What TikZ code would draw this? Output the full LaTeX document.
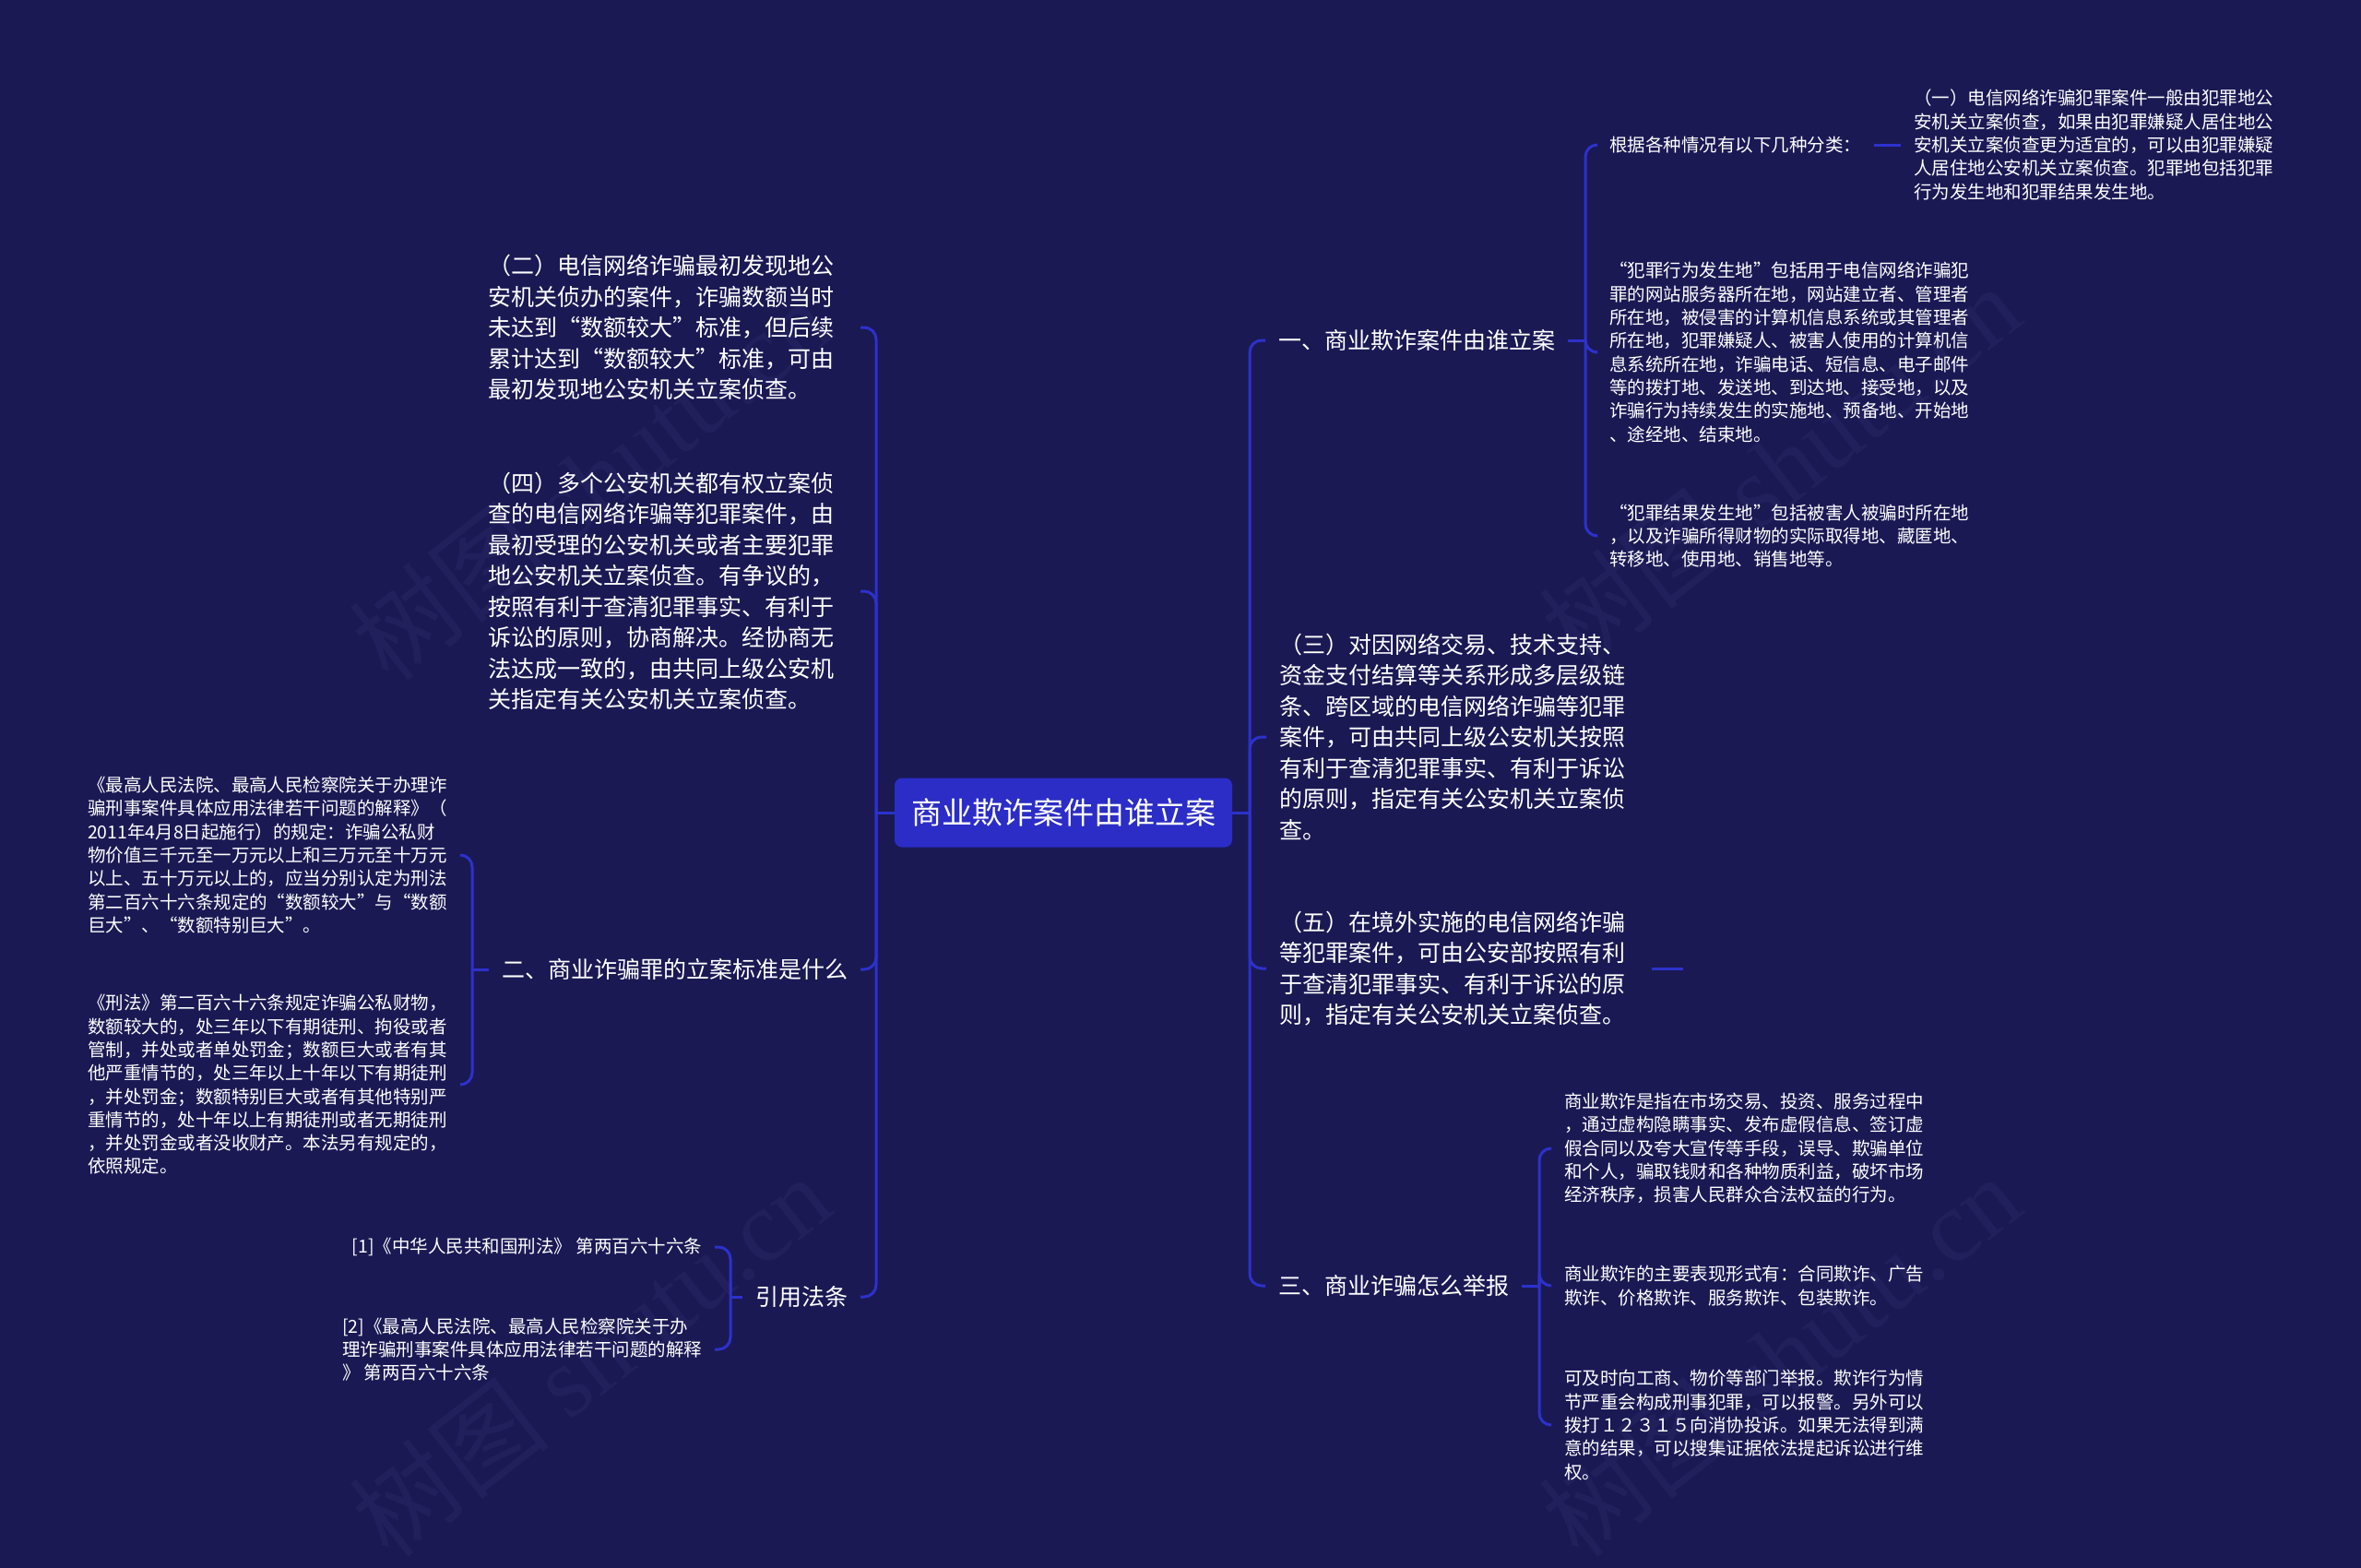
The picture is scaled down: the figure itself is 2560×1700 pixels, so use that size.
\documentclass[tikz,border=0pt]{standalone}
\usepackage{fontspec}
\setmainfont{Noto Sans CJK SC}
\newfontfamily\wmserif{Liberation Serif}
\definecolor{bg}{RGB}{26,25,84}
\definecolor{boxc}{RGB}{43,45,198}
\definecolor{linec}{RGB}{45,49,204}
\definecolor{wm}{RGB}{33,32,93}
\newcommand\zlq{\makebox[1em][r]{“}}
\newcommand\zrq{\makebox[1em][l]{”}}
\tikzset{
  conn/.style={draw=linec, line width=3pt, rounded corners=13pt},
  centerbox/.style={fill=boxc, rounded corners=8pt, text=white, minimum width=366pt,
    minimum height=75pt, inner sep=0pt, font=\fontsize{33}{40}\selectfont},
  lvone/.style={text=white, inner sep=0pt, outer xsep=14pt, align=left,
    font=\fontsize{25}{33.5}\selectfont},
  blkone/.style={lvone, text width=390pt},
  lvtwo/.style={text=white, inner sep=0pt, outer xsep=14pt, align=left,
    font=\fontsize{19.5}{25.3}\selectfont},
  wmark/.style={text=wm, inner sep=0pt, font=\fontsize{110}{120}\selectfont, rotate=38}
}
\begin{document}
\begin{tikzpicture}[x=1pt,y=1pt]
\useasboundingbox (0,0) rectangle (2560,-1700);
\fill[bg] (0,0) rectangle (2560,-1700);
% watermarks
\node[wmark] (wa) at (640,-520) {树图 {\wmserif shutu.cn}};
\node[wmark] (wb) at (1930,-505) {树图 {\wmserif shutu.cn}};
\node[wmark] (wc) at (640,-1470) {树图 {\wmserif shutu.cn}};
\node[wmark] (wd) at (1930,-1470) {树图 {\wmserif shutu.cn}};

% central
\node[centerbox] (C) at (1153,-881) {商业欺诈案件由谁立案};

% ---------- left side ----------
\coordinate (LT) at (950,-881);
\node[blkone, anchor=east] (L1) at (933,-355) {（二）电信网络诈骗最初发现地公\\安机关侦办的案件，诈骗数额当时\\未达到\zlq 数额较大\zrq 标准，但后续\\累计达到\zlq 数额较大\zrq 标准，可由\\最初发现地公安机关立案侦查。};
\node[blkone, anchor=east] (L2) at (933,-641) {（四）多个公安机关都有权立案侦\\查的电信网络诈骗等犯罪案件，由\\最初受理的公安机关或者主要犯罪\\地公安机关立案侦查。有争议的，\\按照有利于查清犯罪事实、有利于\\诉讼的原则，协商解决。经协商无\\法达成一致的，由共同上级公安机\\关指定有关公安机关立案侦查。};
\node[lvone, anchor=east] (L3) at (933,-1051) {二、商业诈骗罪的立案标准是什么};
\node[lvone, anchor=east] (L4) at (933,-1406) {引用法条};

\coordinate (L3T) at (512,-1051);
\node[lvtwo, anchor=east] (L3a) at (499,-927) {《最高人民法院、最高人民检察院关于办理诈\\骗刑事案件具体应用法律若干问题的解释》（\\2011年4月8日起施行）的规定：诈骗公私财\\物价值三千元至一万元以上和三万元至十万元\\以上、五十万元以上的，应当分别认定为刑法\\第二百六十六条规定的\zlq 数额较大\zrq 与\zlq 数额\\巨大\zrq 、\zlq 数额特别巨大\zrq 。};
\node[lvtwo, anchor=east] (L3b) at (499,-1176) {《刑法》第二百六十六条规定诈骗公私财物，\\数额较大的，处三年以下有期徒刑、拘役或者\\管制，并处或者单处罚金；数额巨大或者有其\\他严重情节的，处三年以上十年以下有期徒刑\\，并处罚金；数额特别巨大或者有其他特别严\\重情节的，处十年以上有期徒刑或者无期徒刑\\，并处罚金或者没收财产。本法另有规定的，\\依照规定。};

\coordinate (L4T) at (792,-1406);
\node[lvtwo, anchor=east] (L4a) at (775,-1352) {[1]《中华人民共和国刑法》 第两百六十六条};
\node[lvtwo, anchor=east] (L4b) at (775,-1463) {[2]《最高人民法院、最高人民检察院关于办\\理诈骗刑事案件具体应用法律若干问题的解释\\》 第两百六十六条};

% ---------- right side ----------
\coordinate (RT) at (1355,-881);
\node[lvone, anchor=west] (R1) at (1372,-369) {一、商业欺诈案件由谁立案};
\node[blkone, anchor=west] (R2) at (1373,-799) {（三）对因网络交易、技术支持、\\资金支付结算等关系形成多层级链\\条、跨区域的电信网络诈骗等犯罪\\案件，可由共同上级公安机关按照\\有利于查清犯罪事实、有利于诉讼\\的原则，指定有关公安机关立案侦\\查。};
\node[blkone, anchor=west] (R3) at (1373,-1050) {（五）在境外实施的电信网络诈骗\\等犯罪案件，可由公安部按照有利\\于查清犯罪事实、有利于诉讼的原\\则，指定有关公安机关立案侦查。};
\coordinate (R3e) at (1825,-1050);
\node[lvone, anchor=west] (R4) at (1372,-1394) {三、商业诈骗怎么举报};

\coordinate (R1T) at (1719,-369);
\node[lvtwo, anchor=west] (R1a) at (1731,-157) {根据各种情况有以下几种分类：};
\node[lvtwo, anchor=west] (R1a1) at (2061,-157) {（一）电信网络诈骗犯罪案件一般由犯罪地公\\安机关立案侦查，如果由犯罪嫌疑人居住地公\\安机关立案侦查更为适宜的，可以由犯罪嫌疑\\人居住地公安机关立案侦查。犯罪地包括犯罪\\行为发生地和犯罪结果发生地。};
\node[lvtwo, anchor=west] (R1b) at (1731,-382) {\zlq 犯罪行为发生地\zrq 包括用于电信网络诈骗犯\\罪的网站服务器所在地，网站建立者、管理者\\所在地，被侵害的计算机信息系统或其管理者\\所在地，犯罪嫌疑人、被害人使用的计算机信\\息系统所在地，诈骗电话、短信息、电子邮件\\等的拨打地、发送地、到达地、接受地，以及\\诈骗行为持续发生的实施地、预备地、开始地\\、途经地、结束地。};
\node[lvtwo, anchor=west] (R1c) at (1731,-581) {\zlq 犯罪结果发生地\zrq 包括被害人被骗时所在地\\，以及诈骗所得财物的实际取得地、藏匿地、\\转移地、使用地、销售地等。};

\coordinate (R4T) at (1669,-1394);
\node[lvtwo, anchor=west] (R4a) at (1682,-1245) {商业欺诈是指在市场交易、投资、服务过程中\\，通过虚构隐瞒事实、发布虚假信息、签订虚\\假合同以及夸大宣传等手段，误导、欺骗单位\\和个人，骗取钱财和各种物质利益，破坏市场\\经济秩序，损害人民群众合法权益的行为。};
\node[lvtwo, anchor=west] (R4b) at (1682,-1394) {商业欺诈的主要表现形式有：合同欺诈、广告\\欺诈、价格欺诈、服务欺诈、包装欺诈。};
\node[lvtwo, anchor=west] (R4c) at (1682,-1545) {可及时向工商、物价等部门举报。欺诈行为情\\节严重会构成刑事犯罪，可以报警。另外可以\\拨打１２３１５向消协投诉。如果无法得到满\\意的结果，可以搜集证据依法提起诉讼进行维\\权。};

% ---------- connectors ----------
\draw[conn] (C.west) -- (LT);
\draw[conn] (LT) |- (L1.east);
\draw[conn] (LT) |- (L2.east);
\draw[conn] (LT) |- (L3.east);
\draw[conn] (LT) |- (L4.east);
\draw[conn] (L3.west) -- (L3T);
\draw[conn] (L3T) |- (L3a.east);
\draw[conn] (L3T) |- (L3b.east);
\draw[conn] (L4.west) -- (L4T);
\draw[conn] (L4T) |- (L4a.east);
\draw[conn] (L4T) |- (L4b.east);

\draw[conn] (C.east) -- (RT);
\draw[conn] (RT) |- (R1.west);
\draw[conn] (RT) |- (R2.west);
\draw[conn] (RT) |- (R3.west);
\draw[conn] (RT) |- (R4.west);
\draw[conn] (R3.east) -- (R3e);
\draw[conn] (R1.east) -- (R1T);
\draw[conn] (R1T) |- (R1a.west);
\draw[conn] (R1T) |- (R1b.west);
\draw[conn] (R1T) |- (R1c.west);
\draw[conn] (R1a.east) -- (R1a1.west);
\draw[conn] (R4.east) -- (R4T);
\draw[conn] (R4T) |- (R4a.west);
\draw[conn] (R4T) |- (R4b.west);
\draw[conn] (R4T) |- (R4c.west);
\end{tikzpicture}
\end{document}
